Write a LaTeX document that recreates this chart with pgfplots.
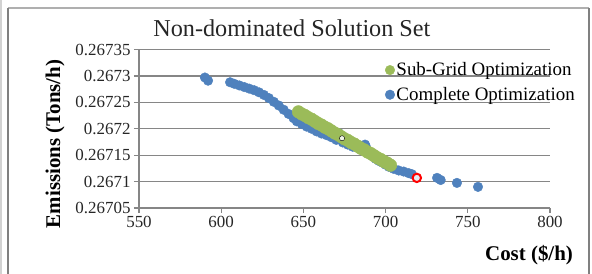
\documentclass[border=0pt]{standalone}
\usepackage{fontspec}
\setmainfont{Liberation Serif}
\usepackage{pgfplots}
\pgfplotsset{compat=1.18}
\definecolor{xlblue}{RGB}{79,129,189}
\definecolor{xlgreen}{RGB}{155,187,89}
\definecolor{gridgray}{RGB}{134,134,134}
\definecolor{framegray}{RGB}{128,128,128}
\definecolor{topgray}{RGB}{175,175,175}
\begin{document}
\begin{tikzpicture}
\path[use as bounding box] (-139bp,-66bp) rectangle (453bp,208bp);
\draw[gray!35, line width=1.5bp] (-138bp,-80bp) -- (-138bp,220bp);
\draw[topgray, line width=1.2bp] (-131bp,200bp) -- (450bp,200bp);
\draw[framegray, line width=1.5bp] (-131bp,-80bp) -- (-131bp,200bp);
\draw[framegray, line width=1.5bp] (450bp,-80bp) -- (450bp,200bp);
\begin{axis}[
  name=ax, at={(0,0)}, anchor=south west,
  scale only axis, width=411bp, height=158.5bp,
  xmin=550, xmax=800, ymin=0.26705, ymax=0.26735,
  xtick={550,600,650,700,750,800},
  xticklabels={550,600,650,700,750,800},
  ytick={0.26705,0.2671,0.26715,0.2672,0.26725,0.2673,0.26735},
  yticklabels={0.26705,0.2671,0.26715,0.2672,0.26725,0.2673,0.26735},
  axis x line*=bottom, axis y line*=left,
  ymajorgrids, major grid style={gridgray, line width=1.2bp},
  axis line style={gridgray, line width=1.5bp},
  tick style={gridgray, line width=1.2bp}, tick align=outside, major tick length=5bp,
  ticklabel style={font=\fontsize{17}{19}\selectfont, text=black!85},
  title={Non-dominated Solution Set},
  title style={at={(axis description cs:0.372,1.098)}, anchor=center, font=\fontsize{24.3}{27}\selectfont, text=black!85},
  ylabel={Emissions (Tons/h)},
  ylabel style={at={(axis description cs:-0.204,0.404)}, anchor=center, font=\bfseries\fontsize{21}{24}\selectfont},
  xlabel={Cost (\$/h)},
  xlabel style={at={(axis description cs:0.949,-0.297)}, anchor=center, font=\bfseries\fontsize{21}{24}\selectfont},
  reverse legend,
  legend image code/.code={\fill[#1] (0bp,0bp) circle (4.8bp);},
  legend style={at={(axis description cs:0.598,0.927)}, anchor=north west, draw=none, fill=none,
    inner sep=0pt, row sep=7bp, font=\fontsize{19}{21}\selectfont,
    nodes={inner sep=1.5bp}},
  legend cell align=left,
]
\addplot[only marks, color=xlblue, mark=*, mark size=4.8bp, mark options={draw=none, fill=xlblue}] coordinates {
(590.1,0.267297) (592.0,0.267291)
(605.4,0.267288) (608,0.267285) (611,0.267282) (614,0.267279) (617,0.267276)
(620,0.267273) (623,0.267269) (626,0.267264) (629,0.267258) (632,0.267251)
(635,0.267244) (638,0.267236) (641,0.267228) (644,0.267220) (646,0.267214)
(649,0.267209) (652,0.267204) (655,0.267200) (658,0.267195) (661,0.267191)
(664,0.267188) (667,0.267184) (670,0.267179) (671.5,0.267192) (674,0.267174)
(677,0.267170) (680,0.267166) (683,0.267164) (687.5,0.267170) (688,0.267166)
(690,0.267156) (692,0.267148) (694,0.267143) (696,0.267139) (698,0.267136)
(700,0.267132) (702,0.267128) (705,0.267124) (708,0.267121) (711,0.267119)
(714,0.267116) (716,0.267114)
(731.3,0.267107) (733.5,0.267103) (743.4,0.2670975) (756.2,0.267090)
};
\addlegendentry{Complete Optimization}
\addplot[only marks, color=xlgreen, mark=*, mark size=6.3bp, mark options={draw=none, fill=xlgreen}] coordinates {
(647,0.267232) (649,0.267228) (651,0.267225) (653,0.267221) (655,0.267218)
(657,0.267214) (659,0.267210) (661,0.267207) (663,0.267203) (665,0.267200)
(667,0.267196) (669,0.267192) (671,0.267189) (673,0.267185) (675,0.267181)
(677,0.267178) (679,0.267174) (681,0.267171) (683,0.267167) (685,0.267163)
(687,0.267160) (689,0.267156) (691,0.267153) (693,0.267149) (695,0.267145)
(697,0.267142) (699,0.267138) (701,0.267135) (703,0.267131)
};
\addlegendentry{Sub-Grid Optimization}
\addplot[only marks, forget plot, mark=*, mark size=2.6bp, mark options={draw=none, fill=white!85!xlgreen}] coordinates {(673.5,0.267182)};
\addplot[only marks, forget plot, mark=*, mark size=4.2bp, mark options={draw=red, fill=white!85!xlblue, line width=2bp}] coordinates {(719,0.267107)};
\end{axis}
\end{tikzpicture}
\end{document}
